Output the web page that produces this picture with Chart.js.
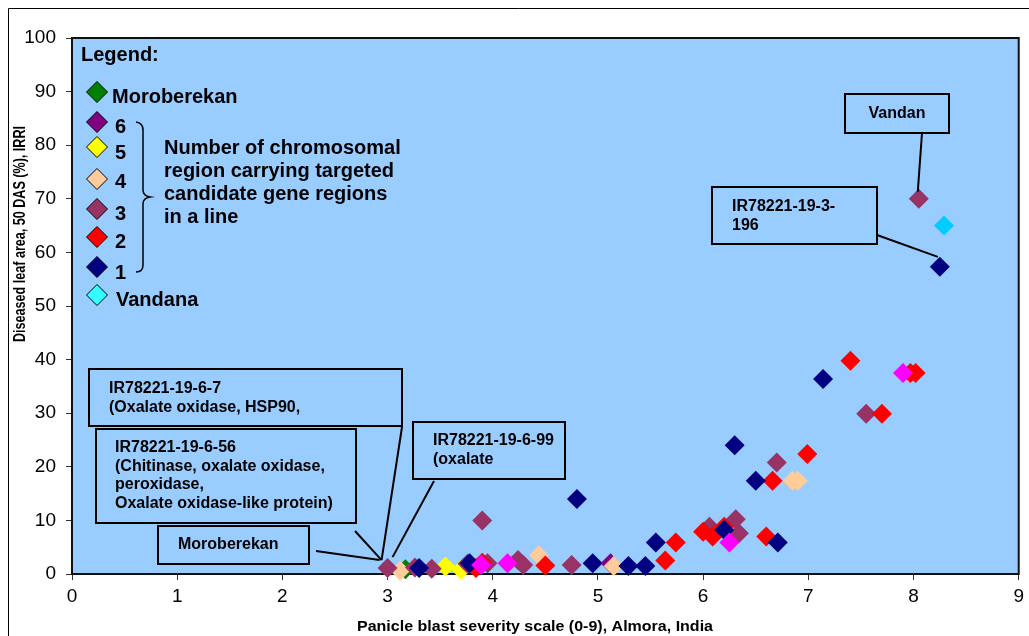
<!DOCTYPE html>
<html><head><meta charset="utf-8">
<script src="https://cdn.jsdelivr.net/npm/chart.js@4.4.1/dist/chart.umd.min.js"></script>
<style>html,body{margin:0;padding:0;background:#fff;}canvas{display:block;}</style>
</head><body>
<canvas id="c" width="1029" height="636"></canvas>
<script>
// ---- data (x = panicle blast severity, y = diseased leaf area %) ----
const xTicks = [0,1,2,3,4,5,6,7,8,9];
const yTicks = [0,10,20,30,40,50,60,70,80,90,100];
const moroberekan = [[3.17,0.9]];
const regions6 = [[5.12,2.0]];
const regions5 = [[3.55,1.4],[3.70,0.8]];
const regions4 = [[3.12,0.6],[4.44,3.5],[5.15,1.5],[6.85,17.4],[6.90,17.4]];
const regions3 = [[3.0,1.1],[3.26,1.2],[3.42,1.0],[3.76,1.9],[3.95,2.0],[3.9,10],[4.24,2.6],[4.29,1.7],[4.75,1.7],[6.06,8.8],[6.31,10.2],[6.34,7.6],[6.70,20.8],[7.55,29.9],[8.05,70]];
const regions2 = [[3.84,1.1],[3.9,2.1],[4.5,1.6],[5.64,2.5],[5.74,5.9],[6.0,7.9],[6.09,7.0],[6.2,8.8],[6.6,7.0],[6.66,17.4],[6.99,22.4],[7.4,39.8],[7.7,29.9],[7.97,37.5],[8.02,37.5]];
const regions1 = [[3.3,1.1],[3.78,2.0],[4.8,14.0],[4.95,2.0],[5.29,1.5],[5.45,1.5],[5.55,5.9],[6.2,8.2],[6.3,24],[6.5,17.4],[6.71,5.9],[7.14,36.4],[8.25,57.3]];
const otherLines = [[3.89,1.7],[4.14,2.0],[6.25,5.9],[7.9,37.5]];
const vandana = [[8.29,65]];

const FONT = "'Liberation Sans', Arial, sans-serif";
const toPts = a => a.map(p => ({x:p[0], y:p[1]}));
function ds(label, arr, color){
  return {label, data: toPts(arr), backgroundColor: color, borderWidth: 0,
    pointStyle:'rectRot', pointRadius:10, pointHoverRadius:10, clip:false};
}

const bgPlugin = {
  id:'bg',
  beforeDraw(chart){
    const c = chart.ctx, a = chart.chartArea;
    c.save();
    c.fillStyle = '#fff'; c.fillRect(0,0,chart.width,chart.height);
    c.strokeStyle = '#000'; c.lineWidth = 1;
    c.beginPath(); c.moveTo(8.5,chart.height); c.lineTo(8.5,8.5); c.lineTo(chart.width,8.5); c.stroke();
    c.fillStyle = '#99CCFF'; c.fillRect(a.left,a.top,a.right-a.left,a.bottom-a.top);
    c.restore();
  },
  beforeDatasetsDraw(chart){
    const c = chart.ctx, a = chart.chartArea;
    c.save(); c.strokeStyle = '#111'; c.lineWidth = 2;
    c.strokeRect(a.left,a.top,a.right-a.left,a.bottom-a.top);
    c.restore();
  }
};

function fitText(c, txt, x, y, font, targetW, rot, align){
  c.save(); c.font = font; c.translate(x,y); if(rot) c.rotate(rot);
  const w = c.measureText(txt).width; c.scale(targetW/w,1);
  c.textAlign = align||'center'; c.textBaseline='middle'; c.fillStyle='#000';
  c.fillText(txt,0,0); c.restore();
}

const overlayPlugin = {
  id:'overlay',
  afterDraw(chart){
    const c = chart.ctx, xs = chart.scales.x, ys = chart.scales.y;
    c.save();
    // axis titles
    fitText(c,'Panicle blast severity scale (0-9), Almora, India',535,627,'bold 15px '+FONT,356);
    fitText(c,'Diseased leaf area, 50 DAS (%), IRRI',21,234,'bold 16px '+FONT,216,-Math.PI/2);
    // legend
    c.fillStyle='#000'; c.textBaseline='middle'; c.textAlign='left';
    c.font='bold 20px '+FONT;
    c.fillText('Legend:',81,55);
    const leg = [['#008000',92],['#800080',122],['#FFFF00',147],['#FFCC99',179],['#993366',209],['#FF0000',237],['#000080',267],['#33FFFF',295]];
    leg.forEach(([col,y])=>{
      c.beginPath(); c.moveTo(97,y-10.5); c.lineTo(107.5,y); c.lineTo(97,y+10.5); c.lineTo(86.5,y); c.closePath();
      c.fillStyle=col; c.fill(); c.strokeStyle='#000'; c.lineWidth=1; c.stroke();
    });
    c.fillStyle='#000';
    c.fillText('Moroberekan',112,97);
    [['6',127],['5',153],['4',182],['3',214],['2',242],['1',273]].forEach(([t,y])=>c.fillText(t,115,y));
    c.fillText('Vandana',116,300);
    ['Number of chromosomal','region carrying targeted','candidate gene regions','in a line'].forEach((t,i)=>c.fillText(t,164,148+i*23.3));
    // brace
    c.strokeStyle='#000'; c.lineWidth=1.5; c.beginPath();
    c.moveTo(136,122); c.quadraticCurveTo(143,123,143,130); c.lineTo(143,190);
    c.quadraticCurveTo(143,196,150,197); c.quadraticCurveTo(143,198,143,204);
    c.lineTo(143,265); c.quadraticCurveTo(143,272,136,272); c.stroke();
    // annotation boxes
    c.lineWidth=2; c.strokeStyle='#000'; c.font='bold 16px '+FONT;
    const boxes = [
      {r:[845,94,104,39], lines:['Vandan'], tx:897, ty:[114], center:true},
      {r:[712,187,165,57], lines:['IR78221-19-3-','196'], tx:732, ty:[207,226]},
      {r:[89,369,313,57], lines:['IR78221-19-6-7','(Oxalate oxidase, HSP90,'], tx:109, ty:[389,408]},
      {r:[96,429,260,94], lines:['IR78221-19-6-56','(Chitinase, oxalate oxidase,','peroxidase,','Oxalate oxidase-like protein)'], tx:115, ty:[448,467,485,504]},
      {r:[158,526,151,38], lines:['Moroberekan'], tx:178, ty:[545]},
      {r:[413,422,152,57], lines:['IR78221-19-6-99','(oxalate'], tx:433, ty:[441,460]}
    ];
    boxes.forEach(b=>{
      c.strokeRect(b.r[0],b.r[1],b.r[2],b.r[3]);
      c.textAlign = b.center?'center':'left';
      b.lines.forEach((t,i)=>c.fillText(t,b.tx,b.ty[i]));
    });
    // leader lines
    const px = (x)=>xs.getPixelForValue(x), py=(y)=>ys.getPixelForValue(y);
    const seg = (x1,y1,x2,y2)=>{c.beginPath();c.moveTo(x1,y1);c.lineTo(x2,y2);c.stroke();};
    c.lineWidth=2;
    seg(922,133,px(8.05)-1,py(70)-7);
    seg(877,235,px(8.25)-2,py(57.3)-10);
    seg(402,427,px(3.0)-6,py(1.1)-8);
    seg(355,531,px(3.0)-6,py(1.1)-8);
    seg(316,551,px(3.0)-8,py(1.1)-8);
    seg(434,481,px(3.0)+5,py(1.1)-11);
    c.restore();
  }
};

// Chart.js draws the first dataset on top, so the list runs from top layer to bottom layer
new Chart(document.getElementById('c'), {
  type:'scatter',
  data:{datasets:[
    ds('Vandana', vandana, '#00CCFF'),
    ds('Other', otherLines, '#FF00FF'),
    ds('1', regions1, '#000080'),
    ds('2', regions2, '#FF0000'),
    ds('3', regions3, '#993366'),
    ds('4', regions4, '#FFCC99'),
    ds('5', regions5, '#FFFF00'),
    ds('6', regions6, '#800080'),
    ds('Moroberekan', moroberekan, '#008000')
  ]},
  options:{
    responsive:false, animation:false, events:[],
    layout:{padding:{left:0,top:38,right:9,bottom:0}},
    plugins:{legend:{display:false}, tooltip:{enabled:false}},
    scales:{
      x:{type:'linear', min:0, max:9,
        afterBuildTicks(s){ s.ticks = xTicks.map(v=>({value:v})); },
        ticks:{color:'#000', font:{size:19, family:FONT}, padding:5},
        grid:{drawOnChartArea:false, drawTicks:true, tickLength:6, color:'#333'},
        border:{color:'#333', width:1},
        afterFit(s){ s.height = 62; }},
      y:{type:'linear', min:0, max:100,
        afterBuildTicks(s){ s.ticks = yTicks.map(v=>({value:v})); },
        ticks:{color:'#000', font:{size:19, family:FONT}, padding:10},
        grid:{drawOnChartArea:false, drawTicks:true, tickLength:6, color:'#333'},
        border:{color:'#333', width:1},
        afterFit(s){ s.width = 72; }}
    }
  },
  plugins:[bgPlugin, overlayPlugin]
});
</script>
</body></html>
